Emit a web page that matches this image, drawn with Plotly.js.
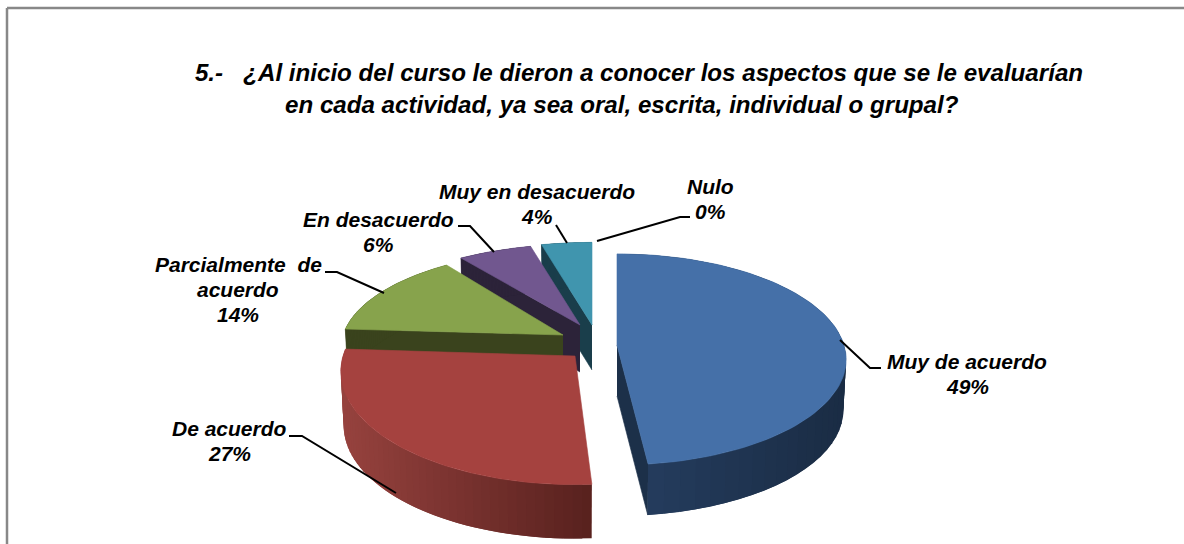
<!DOCTYPE html>
<html>
<head>
<meta charset="utf-8">
<script src="https://cdn.plot.ly/plotly-3.0.1.min.js"></script>
<style>html,body{margin:0;padding:0;background:#fff;overflow:hidden}#chart{width:1184px;height:544px}</style>
</head>
<body>
<div id="chart"></div>
<script>
// ---- data ----
const categories = ["Muy de acuerdo", "De acuerdo", "Parcialmente  de|acuerdo", "En desacuerdo", "Muy en desacuerdo", "Nulo"];
const values = [49, 27, 14, 6, 4, 0];
const titleLines = ["5.-\u00A0\u00A0\u00A0¿Al inicio del curso le dieron a conocer los aspectos que se le evaluarían",
                    "en cada actividad, ya sea oral, escrita, individual o grupal?"];

// ---- styling and view geometry of the pseudo-3D pie ----
const topColors = ["#4570a8", "#a5423f", "#87a34c", "#71578f", "#4095ae", "#f79646"];
const edgeColors = ["#1c3049", "#5c2320", "#3a431d", "#2c2339", "#1a3e4b", "#000000"];
const rimFrom = {0: [36, 60, 93], 1: [150, 66, 62]};
const rimTo = {0: [26, 44, 68], 1: [88, 33, 30]};
const persp = 0.137;
const view = [
  {cx: 617, cy: 345, a: 227, b: 103.6, depth: 51, endNudge: -3.2, startEdge: false, endEdge: true},
  {cx: 575, cy: 356, a: 232, b: 111, depth: 54, endNudge: 0, startEdge: false, endEdge: false},
  {cx: 563, cy: 335, a: 220, b: 96, depth: 48, endNudge: 0, startEdge: true, endEdge: false},
  {cx: 580, cy: 325, a: 225, b: 92, depth: 47, endNudge: 0, startEdge: true, endEdge: false},
  {cx: 592, cy: 325, a: 230, b: 94, depth: 45, endNudge: 0, startEdge: true, endEdge: false}
];
const labelSpots = [
  {x: 967, y: 361}, {x: 229, y: 428}, {x: 238, y: 264}, {x: 378, y: 219}, {x: 537, y: 191}, {x: 710, y: 186}
];
const leaders = [
  {x: [840, 870, 881], y: [340, 368, 368]},
  {x: [289, 302, 396], y: [436, 436, 493]},
  {x: [325, 337, 384], y: [272, 272, 293]},
  {x: [458, 470, 494], y: [226, 226, 252]},
  {x: [556, 567], y: [225, 243]},
  {x: [597, 680, 690], y: [241, 217, 217]}
];

const total = values.reduce((s, v) => s + v, 0);
const rad = d => d * Math.PI / 180;
function project(g, deg, drop) {
  const u = Math.sin(rad(deg)), v = -Math.cos(rad(deg)), w = 1 - persp * v;
  const shrink = drop ? 0.988 : 1;
  return [g.cx + g.a * u / w * shrink, g.cy + g.b * v / w + (drop ? g.depth : 0)];
}
function poly(xs, ys, color, lw) {
  return {type: "scatter", mode: "lines", x: xs, y: ys, fill: "toself", fillcolor: color,
          line: {color: color, width: lw === undefined ? 0.6 : lw}, hoverinfo: "skip", showlegend: false};
}
function apexDrop(g, drop) { return [g.cx, g.cy + (drop ? g.depth : 0)]; }

let start = 0;
const spans = values.map((v, i) => {
  const s = start, e = start + v / total * 360; start = e;
  return {s, e: e + (view[i] ? view[i].endNudge : 0)};
});

const traces = [];
// back slices first, so the nearer ones cover them
[4, 3, 2, 1, 0].forEach(i => {
  const g = view[i], sp = spans[i];
  if (g.startEdge || g.endEdge) {
    const d = g.startEdge ? sp.s : sp.e;
    const a0 = apexDrop(g, false), a1 = apexDrop(g, true), p0 = project(g, d, false), p1 = project(g, d, true);
    traces.push(poly([a0[0], p0[0], p1[0], a1[0]], [a0[1], p0[1], p1[1], a1[1]], edgeColors[i]));
  }
  // outer rim: narrow overlapping quads, shaded left to right
  const steps = 48, stepDeg = (sp.e - sp.s) / steps;
  for (let k = 0; k < steps; k++) {
    const d0 = sp.s + stepDeg * k;
    const d1 = Math.min(sp.e, d0 + stepDeg * 2);
    const t0 = project(g, d0, false), t1 = project(g, d1, false), b0 = project(g, d0, true), b1 = project(g, d1, true);
    let col = edgeColors[i];
    if (rimFrom[i]) {
      const mid = project(g, d0 + stepDeg / 2, false)[0];
      const range = i === 0 ? [648, 846] : [342, 591];
      const f = Math.max(0, Math.min(1, (mid - range[0]) / (range[1] - range[0])));
      const c = rimFrom[i].map((cv, n) => Math.round(cv + (rimTo[i][n] - cv) * f));
      col = "rgb(" + c.join(",") + ")";
    }
    traces.push(poly([t0[0], t1[0], b1[0], b0[0]], [t0[1], t1[1], b1[1], b0[1]], col, 0));
  }
  // top face
  const xs = [g.cx], ys = [g.cy];
  const n = 90;
  for (let k = 0; k <= n; k++) {
    const p = project(g, sp.s + (sp.e - sp.s) * k / n, false);
    xs.push(p[0]); ys.push(p[1]);
  }
  xs.push(g.cx); ys.push(g.cy);
  traces.push(poly(xs, ys, topColors[i]));
});
leaders.forEach(l => traces.push({type: "scatter", mode: "lines", x: l.x, y: l.y,
  line: {color: "#000", width: 2}, hoverinfo: "skip", showlegend: false}));

const labelFont = {family: "Liberation Sans, Arial, sans-serif", size: 21, color: "#000", weight: 700, style: "italic"};
const titleFont = {family: "Liberation Sans, Arial, sans-serif", size: 24.15, color: "#000", weight: 700, style: "italic"};
const annotations = [];
categories.forEach((c, i) => {
  const lines = c.split("|").concat([Math.round(values[i] / total * 100) + "%"]);
  lines.forEach((t, n) => annotations.push({x: labelSpots[i].x, y: labelSpots[i].y + n * 25, text: t.replace(/ /g, "\u00A0"),
    xref: "x", yref: "y", showarrow: false, xanchor: "center", yanchor: "middle", font: labelFont}));
});
annotations.push({x: 621.5, y: 104, text: titleLines[1], xref: "x", yref: "y", showarrow: false,
  xanchor: "center", yanchor: "middle", font: titleFont});

const layout = {
  width: 1184, height: 544, margin: {l: 0, r: 0, t: 0, b: 0},
  paper_bgcolor: "#fff", plot_bgcolor: "#fff", showlegend: false, hovermode: false,
  xaxis: {range: [0, 1184], visible: false, fixedrange: true},
  yaxis: {range: [544, 0], visible: false, fixedrange: true},
  title: {text: titleLines[0],
          x: 639 / 1184, xanchor: "center", y: 1 - 73 / 544, yanchor: "middle",
          font: titleFont},
  shapes: [
    {type: "line", xref: "x", yref: "y", x0: 7, x1: 1184, y0: 8, y1: 8, line: {color: "#888", width: 2.5}},
    {type: "line", xref: "x", yref: "y", x0: 7, x1: 7, y0: 8, y1: 544, line: {color: "#888", width: 2.5}}
  ],
  annotations: annotations
};
Plotly.newPlot("chart", traces, layout, {displayModeBar: false, staticPlot: true});
</script>
</body>
</html>
